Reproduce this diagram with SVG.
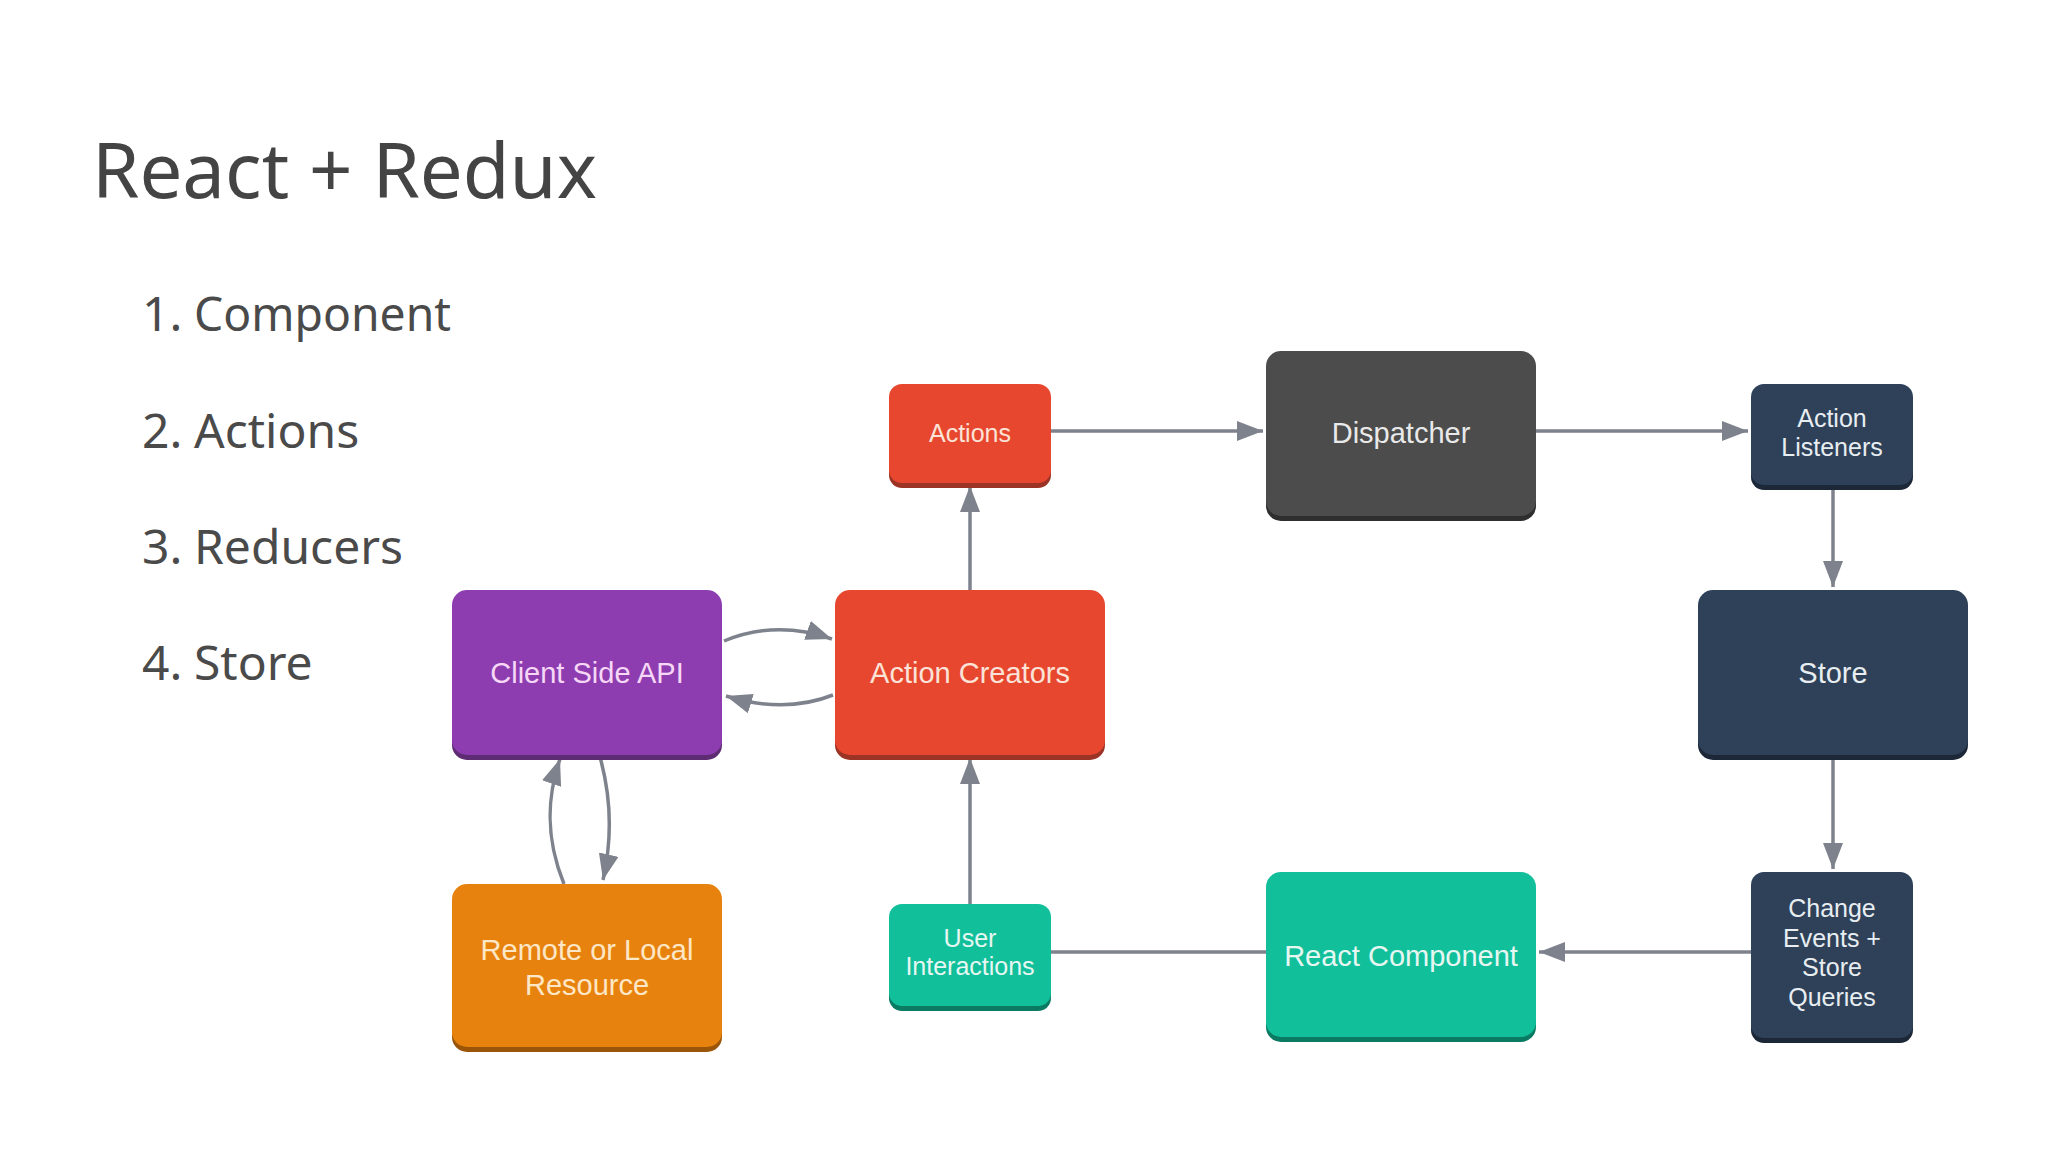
<svg xmlns="http://www.w3.org/2000/svg" width="2048" height="1152" viewBox="0 0 2048 1152">
<defs>
<style>
.title{font-family:"Noto Sans","DejaVu Sans",sans-serif;font-size:77px;fill:#444444}
.item{font-family:"Noto Sans","DejaVu Sans",sans-serif;font-size:48px;fill:#4a4a4a}
.lbl{font-family:"Liberation Sans",Arial,sans-serif;font-size:29px;text-anchor:middle}
.sm{font-size:25px}
.conn{fill:none;stroke:#7e828d;stroke-width:3.5}
</style>
<marker id="ah" markerUnits="userSpaceOnUse" markerWidth="28" markerHeight="22" refX="26" refY="10" orient="auto">
<path d="M0,0 L26,10 L0,20 z" fill="#7e828d"/>
</marker>
</defs>
<rect width="2048" height="1152" fill="#ffffff"/>
<text class="title" x="92" y="198" textLength="505" lengthAdjust="spacingAndGlyphs">React + Redux</text>
<g id="list">
<text class="item" x="142" y="331">1.</text><text class="item" x="194" y="331" textLength="257" lengthAdjust="spacingAndGlyphs">Component</text>
<text class="item" x="142" y="448">2.</text><text class="item" x="194" y="448">Actions</text>
<text class="item" x="142" y="564">3.</text><text class="item" x="194" y="564">Reducers</text>
<text class="item" x="142" y="680">4.</text><text class="item" x="194" y="680">Store</text>
</g>
<g id="connectors">
<line class="conn" x1="1051" y1="431" x2="1263" y2="431" marker-end="url(#ah)"/>
<line class="conn" x1="1536" y1="431" x2="1748" y2="431" marker-end="url(#ah)"/>
<line class="conn" x1="1833" y1="485" x2="1833" y2="587" marker-end="url(#ah)"/>
<line class="conn" x1="1833" y1="757" x2="1833" y2="869" marker-end="url(#ah)"/>
<line class="conn" x1="1751" y1="952" x2="1539" y2="952" marker-end="url(#ah)"/>
<line class="conn" x1="1266" y1="952" x2="1051" y2="952"/>
<line class="conn" x1="970" y1="904" x2="970" y2="758" marker-end="url(#ah)"/>
<line class="conn" x1="970" y1="590" x2="970" y2="486" marker-end="url(#ah)"/>
<path class="conn" d="M724,641 C760,626 795,626 832,639" marker-end="url(#ah)"/>
<path class="conn" d="M833,695 C800,708 765,708 726,696" marker-end="url(#ah)"/>
<path class="conn" d="M600,757 C612,800 612,840 603,880" marker-end="url(#ah)"/>
<path class="conn" d="M564,884 C546,840 546,800 560,759" marker-end="url(#ah)"/>
</g>
<g id="actions">
<rect x="889" y="389" width="162" height="99" rx="13" fill="#9c3426"/>
<rect x="889" y="384" width="162" height="99" rx="13" fill="#e8472f"/>
<text class="lbl sm" x="970" y="442" fill="#fbe3d8">Actions</text>
</g>
<g id="dispatcher">
<rect x="1266" y="356" width="270" height="165" rx="15" fill="#2e2e2e"/>
<rect x="1266" y="351" width="270" height="165" rx="15" fill="#4c4c4c"/>
<text class="lbl" x="1401" y="443" fill="#e9e9e9">Dispatcher</text>
</g>
<g id="action-listeners">
<rect x="1751" y="389" width="162" height="101" rx="13" fill="#1c2838"/>
<rect x="1751" y="384" width="162" height="101" rx="13" fill="#2e4158"/>
<text class="lbl sm" x="1832" y="427" fill="#e8edf2">Action</text>
<text class="lbl sm" x="1832" y="456" fill="#e8edf2">Listeners</text>
</g>
<g id="client-side-api">
<rect x="452" y="595" width="270" height="165" rx="15" fill="#5e2c72"/>
<rect x="452" y="590" width="270" height="165" rx="15" fill="#8e3db0"/>
<text class="lbl" x="587" y="683" fill="#f6d8f6">Client Side API</text>
</g>
<g id="action-creators">
<rect x="835" y="595" width="270" height="165" rx="15" fill="#9c3426"/>
<rect x="835" y="590" width="270" height="165" rx="15" fill="#e8472f"/>
<text class="lbl" x="970" y="683" fill="#fbe3d8">Action Creators</text>
</g>
<g id="store">
<rect x="1698" y="595" width="270" height="165" rx="15" fill="#1c2838"/>
<rect x="1698" y="590" width="270" height="165" rx="15" fill="#2e4158"/>
<text class="lbl" x="1833" y="683" fill="#e8edf2">Store</text>
</g>
<g id="remote-resource">
<rect x="452" y="889" width="270" height="163" rx="15" fill="#9a5508"/>
<rect x="452" y="884" width="270" height="163" rx="15" fill="#e8820e"/>
<text class="lbl" x="587" y="960" fill="#fde7c6">Remote or Local</text>
<text class="lbl" x="587" y="995" fill="#fde7c6">Resource</text>
</g>
<g id="user-interactions">
<rect x="889" y="909" width="162" height="102" rx="13" fill="#0b7a62"/>
<rect x="889" y="904" width="162" height="102" rx="13" fill="#12bf9b"/>
<text class="lbl sm" x="970" y="947" fill="#e6f7f2">User</text>
<text class="lbl sm" x="970" y="975" fill="#e6f7f2">Interactions</text>
</g>
<g id="react-component">
<rect x="1266" y="877" width="270" height="165" rx="15" fill="#0b7a62"/>
<rect x="1266" y="872" width="270" height="165" rx="15" fill="#12bf9b"/>
<text class="lbl" x="1401" y="966" fill="#e6f7f2">React Component</text>
</g>
<g id="change-events">
<rect x="1751" y="877" width="162" height="166" rx="13" fill="#1c2838"/>
<rect x="1751" y="872" width="162" height="166" rx="13" fill="#2e4158"/>
<text class="lbl sm" x="1832" y="917" fill="#e8edf2">Change</text>
<text class="lbl sm" x="1832" y="947" fill="#e8edf2">Events +</text>
<text class="lbl sm" x="1832" y="976" fill="#e8edf2">Store</text>
<text class="lbl sm" x="1832" y="1006" fill="#e8edf2">Queries</text>
</g>
</svg>
